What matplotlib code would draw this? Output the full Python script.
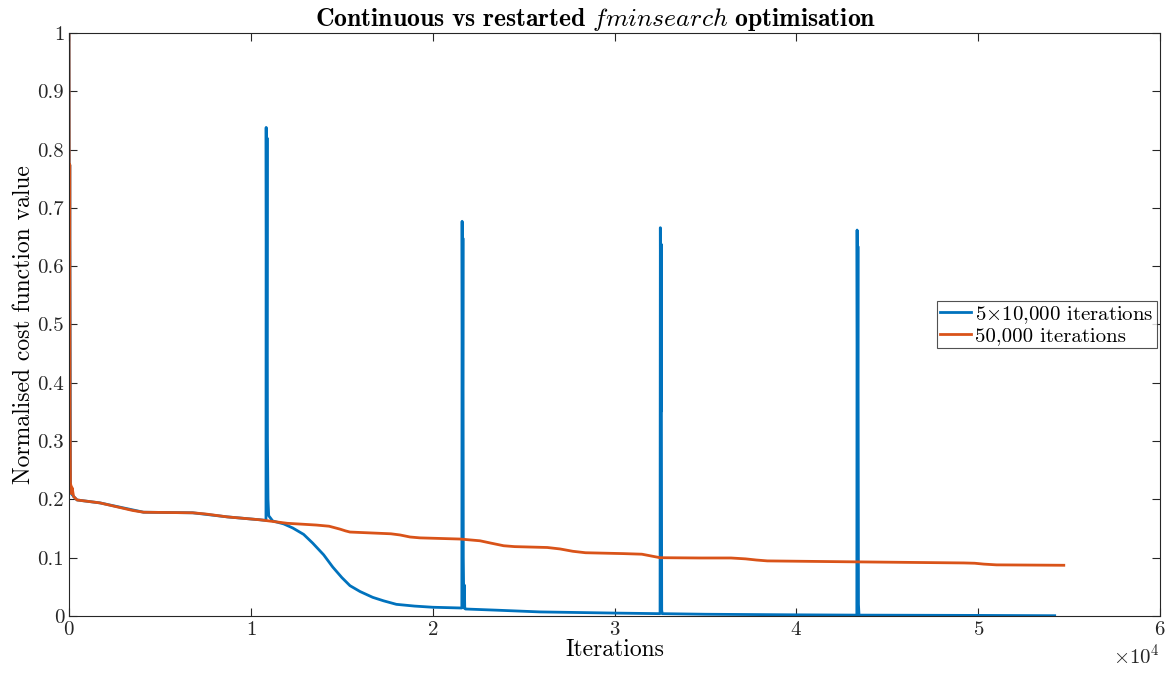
import matplotlib
matplotlib.use("Agg")
import matplotlib.pyplot as plt
from matplotlib.ticker import FuncFormatter

# Valores (iteraciones, coste normalizado)
cont_x = [0, 20, 40, 60, 80, 100, 130, 170, 250, 440, 1700, 3500, 4100, 6800,
          7500, 8700, 10500, 12000, 13600, 14300, 14900, 15200, 15450, 17700,
          18200, 18750, 19300, 21500, 22600, 23200, 23900, 24500, 26300, 27000,
          27700, 28400, 30500, 31500, 32000, 32500, 34700, 36400, 37200, 37800,
          38400, 42800, 49200, 49800, 50300, 51000, 54700]
cont_y = [1.0, 0.45, 0.774, 0.35, 0.22, 0.225, 0.21, 0.22, 0.205, 0.199, 0.194,
          0.181, 0.178, 0.177, 0.175, 0.170, 0.165, 0.159, 0.156, 0.154, 0.149,
          0.146, 0.144, 0.141, 0.139, 0.1355, 0.134, 0.132, 0.129, 0.125,
          0.1205, 0.119, 0.1175, 0.115, 0.111, 0.1085, 0.107, 0.106, 0.103,
          0.100, 0.0995, 0.0995, 0.098, 0.096, 0.0945, 0.093, 0.091, 0.0905,
          0.089, 0.0877, 0.087]

rest_x = [0, 20, 40, 80, 130, 250, 440, 1700, 4100, 6800, 8700, 10500, 10830,
          10840, 10865, 10890, 10910, 10940, 10980, 11200, 11800, 12300, 12900,
          13400, 14000, 14500, 15000, 15450, 16000, 16700, 17300, 18000, 19000,
          20000, 21600,
          21615, 21640, 21660, 21680, 21710, 21740, 21760, 21800, 23500, 25900,
          30000, 32500,
          32515, 32540, 32560, 32590, 32620, 35000, 40000, 43320,
          43335, 43360, 43380, 43410, 43440, 50000, 54200]
rest_y = [1.0, 0.45, 0.774, 0.22, 0.21, 0.205, 0.199, 0.194, 0.178, 0.177,
          0.170, 0.165, 0.164,
          0.838, 0.45, 0.82, 0.3, 0.2, 0.172, 0.163, 0.158, 0.151, 0.140,
          0.125, 0.105, 0.084, 0.066, 0.052, 0.042, 0.032, 0.026, 0.020, 0.017,
          0.015, 0.0137,
          0.677, 0.35, 0.648, 0.1, 0.014, 0.053, 0.013, 0.012, 0.010, 0.007,
          0.005, 0.004,
          0.666, 0.35, 0.638, 0.01, 0.004, 0.003, 0.002, 0.0015,
          0.662, 0.35, 0.634, 0.02, 0.0015, 0.001, 0.0005]

plt.rcParams['font.family'] = 'serif'
plt.rcParams['font.serif'] = ['cmr10']
plt.rcParams['mathtext.fontset'] = 'cm'
plt.rcParams['axes.formatter.use_mathtext'] = True
plt.rcParams['axes.unicode_minus'] = False

fig = plt.figure(figsize=(11.72, 6.73), dpi=100)
ax = fig.add_axes([0.0589, 0.0847, 0.931, 0.8663])

ax.plot(rest_x, rest_y, color='#0072BD', lw=2, label=r'5$\times$10,000 iterations')
ax.plot(cont_x, cont_y, color='#D95319', lw=2, label='50,000 iterations')

ax.set_xlim(0, 60000)
ax.set_ylim(0, 1)
ax.set_xticks([0, 10000, 20000, 30000, 40000, 50000, 60000])
ax.set_yticks([i / 10 for i in range(11)])
ax.yaxis.set_major_formatter(FuncFormatter(lambda v, p: '%g' % v))
ax.ticklabel_format(axis='x', style='sci', scilimits=(4, 4))
ax.xaxis.get_offset_text().set_fontsize(15)

ax.tick_params(direction='in', top=True, right=True, labelsize=15,
               length=6, width=0.8, colors='#262626')
for s in ax.spines.values():
    s.set_color('#262626')
    s.set_linewidth(0.8)

ax.set_xlabel('Iterations', fontsize=17, labelpad=0)
ax.set_ylabel('Normalised cost function value', fontsize=17, labelpad=2)
ax.set_title(r'$\mathbf{Continuous\ vs\ restarted}\ \mathit{fminsearch}\ \mathbf{optimisation}$',
             fontsize=18.5, pad=5, x=0.483)

leg = ax.legend(loc='center right', bbox_to_anchor=(0.997, 0.5), fontsize=15,
                frameon=True, fancybox=False, edgecolor='#262626',
                borderpad=0.15, handlelength=1.5, handletextpad=0.2,
                labelspacing=0.05, borderaxespad=0)
leg.get_frame().set_linewidth(0.8)

plt.savefig('out.png', dpi=100)
